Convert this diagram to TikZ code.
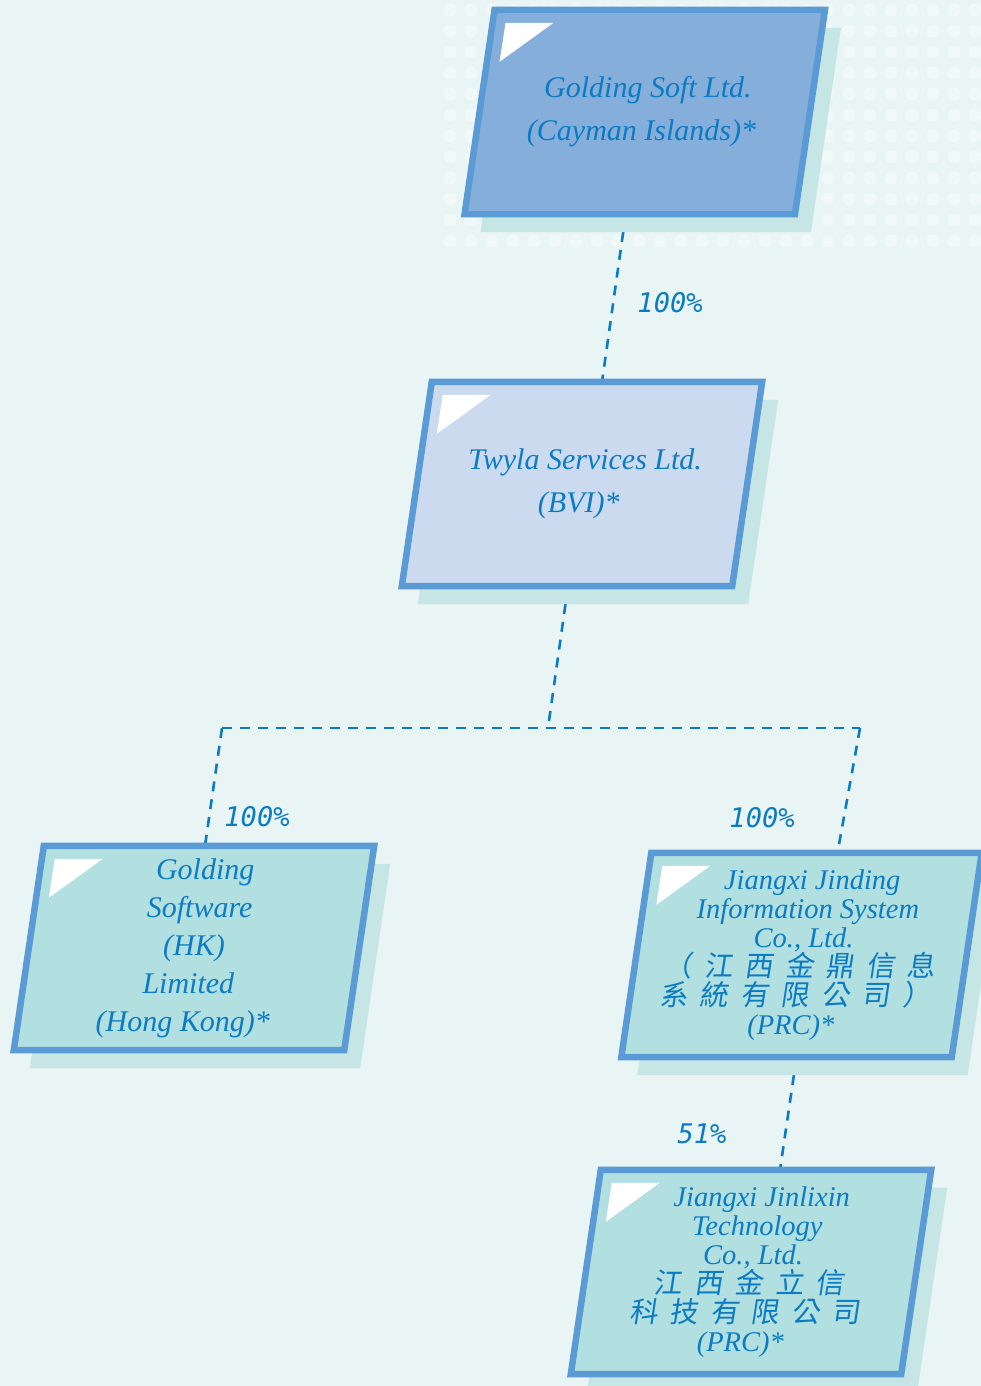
\documentclass[tikz,border=0pt]{standalone}
\usepackage{fontspec}
\setmainfont{Liberation Serif}
\newfontfamily\pctfont{DejaVu Sans Mono}
\newfontfamily\cjk{Noto Sans CJK TC}[FakeSlant=0.15]

\definecolor{edgeblue}{HTML}{5B9BD5}
\definecolor{textblue}{HTML}{0B7BC3}
\definecolor{topfill}{HTML}{86AEDB}
\definecolor{midfill}{HTML}{CBDAEF}
\definecolor{subfill}{HTML}{B2DFDF}
\definecolor{shadowteal}{HTML}{C6E6E5}
\definecolor{bgteal}{HTML}{E9F5F5}

% one text line, moved sideways along the slant
\newcommand{\sline}[2]{\hbox{\kern#1pt\relax#2\kern-#1pt\relax}}
\newcommand{\cgap}{\hspace{12pt}}

\pgfdeclarelayer{back}
\pgfdeclarelayer{links}
\pgfdeclarelayer{frames}
\pgfsetlayers{back,links,frames,main}

\begin{document}
\begin{tikzpicture}[x=1pt,y=-1pt,
  entity/.style={rectangle, minimum width=330pt, minimum height=204pt, inner sep=0pt,
    text=textblue, align=center},
  big/.style={font=\itshape\fontsize{30}{43}\selectfont},
  mid/.style={font=\itshape\fontsize{30}{38}\selectfont},
  small/.style={font=\itshape\fontsize{28.5}{29}\selectfont},
  link/.style={draw=textblue, line width=2.6pt, dash pattern=on 10pt off 8pt},
  pct/.style={text=textblue, inner sep=0pt, font=\pctfont\itshape\fontsize{27}{27}\selectfont}]

  \useasboundingbox (0,0) rectangle (981,1386);

  \node[entity, big] (1) at (644.75,112)
    {\sline{3.2}{Golding Soft Ltd.}\\ \sline{-3.2}{(Cayman Islands)*}};
  \node[entity, big] (2) at (582,484)
    {\sline{3.2}{Twyla Services Ltd.}\\ \sline{-3.2}{(BVI)*}};
  \node[entity, mid] (3) at (194,948)
    {\sline{11.2}{Golding}\\ \sline{5.6}{Software}\\ \sline{0}{(HK)}\\
     \sline{-5.6}{Limited}\\ \sline{-11.2}{(Hong Kong)*}};
  \node[entity, small] (4) at (801.5,955)
    {\sline{10.7}{Jiangxi Jinding}\\ \sline{6.4}{Information System}\\ \sline{2.1}{Co., Ltd.}\\
     \sline{-2.1}{\cjk\upshape （\cgap 江\cgap 西\cgap 金\cgap 鼎\cgap 信\cgap 息}\\
     \sline{-6.4}{\cjk\upshape 系\cgap 統\cgap 有\cgap 限\cgap 公\cgap 司\cgap ）}\\
     \sline{-10.7}{(PRC)*}};
  \node[entity, small] (5) at (751,1272)
    {\sline{10.7}{Jiangxi Jinlixin}\\ \sline{6.4}{Technology}\\ \sline{2.1}{Co., Ltd.}\\
     \sline{-2.1}{\cjk\upshape 江\cgap 西\cgap 金\cgap 立\cgap 信}\\
     \sline{-6.4}{\cjk\upshape 科\cgap 技\cgap 有\cgap 限\cgap 公\cgap 司}\\
     \sline{-10.7}{(PRC)*}};

  \coordinate (j) at (548,728);
  \coordinate (jl) at (222,728);
  \coordinate (jr) at (860,728);

  \node[pct] (p1) at (670,303) {100\%};
  \node[pct] (p2) at (257,817) {100\%};
  \node[pct] (p3) at (762,818) {100\%};
  \node[pct] (p4) at (702,1134) {51\%};

  % slanted frames, shadows and white corner flags
  \begin{pgfonlayer}{frames}
    \foreach \n/\f in {1/topfill, 2/midfill, 3/subfill, 4/subfill, 5/subfill} {
      \fill[shadowteal] ([shift={(1,18)}]\n.south west) -- ([shift={(31,18)}]\n.north west)
        -- ([shift={(31,18)}]\n.north east) -- ([shift={(1,18)}]\n.south east) -- cycle;
      \filldraw[fill=\f, draw=edgeblue, line width=6.5pt]
        ([xshift=-15pt]\n.south west) -- ([xshift=15pt]\n.north west)
        -- ([xshift=15pt]\n.north east) -- ([xshift=-15pt]\n.south east) -- cycle;
      \fill[white] ([shift={(26,13)}]\n.north west) -- ([shift={(74,13)}]\n.north west)
        -- ([shift={(20,52)}]\n.north west) -- cycle;
    }
  \end{pgfonlayer}

  \begin{pgfonlayer}{links}
    \draw[link] ([xshift=-19pt]1.south) -- ([xshift=20pt]2.north);
    \draw[link] ([xshift=-14pt]2.south) -- (j);
    \draw[link] (jl) -- (jr);
    \draw[link] (jl) -- ([xshift=11pt]3.north);
    \draw[link] (jr) -- ([xshift=36pt]4.north);
    \draw[link] ([xshift=-5pt]4.south) -- ([xshift=29pt]5.north);
  \end{pgfonlayer}

  \begin{pgfonlayer}{back}
    \fill[bgteal] (0,0) rectangle (981,1386);
    \foreach \x in {450,471,...,981}
      \foreach \y in {10,31,...,250}
        \fill[white, opacity=0.35] (\x,\y) circle (6.5);
  \end{pgfonlayer}
\end{tikzpicture}
\end{document}
